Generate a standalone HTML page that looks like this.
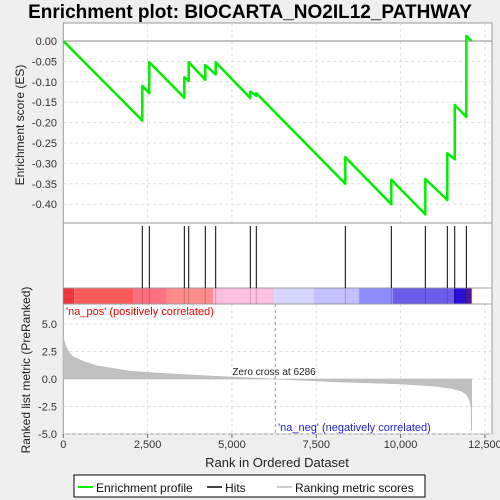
<!DOCTYPE html>
<html><head><meta charset="utf-8"><style>
body{margin:0;background:#efefef;font-family:"Liberation Sans",sans-serif}
svg{display:block}
</style></head><body>
<svg id="c" width="500" height="500" xmlns="http://www.w3.org/2000/svg"></svg>
<script>
const hitRanks=[2342,2550,3588,3718,4210,4518,5544,5722,8361,9725,10733,11385,11605,11949];
const esBefore=[-0.195,-0.128,-0.139,-0.098,-0.095,-0.082,-0.140,-0.134,-0.350,-0.400,-0.425,-0.390,-0.290,-0.186];
const esAfter=[-0.110,-0.052,-0.089,-0.052,-0.059,-0.052,-0.124,-0.128,-0.285,-0.340,-0.338,-0.275,-0.157,0.012];
const metricRanks=[0,50,100,200,300,450,600,800,1000,1500,2000,3000,4500,6286,8000,10000,11000,11500,11800,11950,12050,12090,12100,12108];
const metricVals=[3.8,3.2,2.8,2.3,2.0,1.8,1.6,1.4,1.2,0.95,0.7,0.5,0.25,0,-0.25,-0.45,-0.65,-0.85,-1.1,-1.4,-2.0,-2.6,-4.7,-4.7];
const esTicks=[0,-0.05,-0.1,-0.15,-0.2,-0.25,-0.3,-0.35,-0.4];
const esTickLabels=["0.00","-0.05","-0.10","-0.15","-0.20","-0.25","-0.30","-0.35","-0.40"];
const mTicks=[5,2.5,0,-2.5,-5];
const mTickLabels=["5.0","2.5","0.0","-2.5","-5.0"];
const xTicks=[0,2500,5000,7500,10000,12500];
const xTickLabels=["0","2,500","5,000","7,500","10,000","12,500"];
const N=12108, zeroCross=6286;
const bandEdges=[0,320,2070,3060,4440,6250,7420,8770,9770,11580,11940,12108];
const bandColors=["#e8383c","#ff5a5a","#ff7080","#ff8c8c","#ffc0e0","#d8d8ff","#c4c0ff","#8c8cff","#6c5ce8","#2a10d0","#5010a0"];
const L=63.3,R=492;
const X=r=>L+r*0.03373;
const YE=v=>41-v*408;
const YM=v=>379-v*11;
const s=document.getElementById('c');
function el(t,a,txt){const e=document.createElementNS('http://www.w3.org/2000/svg',t);for(const k in a)e.setAttribute(k,a[k]);if(txt!==undefined)e.textContent=txt;s.appendChild(e);return e;}
let e;
e=el('text',{x:250,y:18,'text-anchor':'middle','font-size':19,'font-weight':'bold',fill:'#000'},'Enrichment plot: BIOCARTA_NO2IL12_PATHWAY');

e=el('rect',{x:L,y:23,width:R-L,height:411,fill:'#fff',stroke:'#999'});

// grid
for(const t of xTicks){if(t===0)continue;for(const [a,b] of [[23,223],[304,434]]){e=el('line',{x1:X(t),x2:X(t),y1:a,y2:b,stroke:'#ddd','stroke-dasharray':'3,3'});}}
esTicks.forEach((t,i)=>{e=el('line',{x1:L,x2:R,y1:YE(t),y2:YE(t),stroke:t===0?'#888':'#ddd','stroke-dasharray':t===0?'':'3,3'});
e=el('text',{x:57,y:YE(t)+4,'text-anchor':'end','font-size':11,fill:'#333'},esTickLabels[i]);});
mTicks.forEach((t,i)=>{e=el('line',{x1:L,x2:R,y1:YM(t),y2:YM(t),stroke:'#ddd','stroke-dasharray':'3,3'});
e=el('text',{x:57,y:YM(t)+4,'text-anchor':'end','font-size':11,fill:'#333'},mTickLabels[i]);});
// panel separators
for(const y of [223,288,304]){e=el('line',{x1:L,x2:R,y1:y,y2:y,stroke:'#999'});}
// color bands
for(let i=0;i<bandColors.length;i++){e=el('rect',{x:X(bandEdges[i]),y:288.5,width:X(bandEdges[i+1])-X(bandEdges[i]),height:15,fill:bandColors[i]});}
// hits
hitRanks.forEach(r=>{e=el('line',{x1:X(r),x2:X(r),y1:226,y2:288,stroke:'#000','stroke-width':1});
e=el('line',{x1:X(r),x2:X(r),y1:288,y2:304,stroke:'rgba(0,0,0,0.2)'});});
// metric area
let d='M'+X(0)+','+YM(0);metricRanks.forEach((r,i)=>d+=' L'+X(r)+','+YM(metricVals[i]));d+=' L'+X(N)+','+YM(0)+'Z';
e=el('path',{d:d,fill:'#c0c0c0',stroke:'#b8b8b8','stroke-width':0.5});
e=el('line',{x1:X(zeroCross),x2:X(zeroCross),y1:304,y2:434,stroke:'#999','stroke-dasharray':'3,3'});
e=el('text',{x:274,y:375,'text-anchor':'middle','font-size':10,fill:'#222'},'Zero cross at '+zeroCross);
e=el('text',{x:66,y:315,'font-size':11,fill:'#e00'},"'na_pos' (positively correlated)");
e=el('text',{x:278,y:431,'font-size':11,fill:'#22c'},"'na_neg' (negatively correlated)");
// ES line
let p='M'+X(0)+','+YE(0);hitRanks.forEach((r,i)=>{p+=' L'+X(r)+','+YE(esBefore[i])+' L'+X(r)+','+YE(esAfter[i]);});p+=' L'+X(N)+','+YE(0);
e=el('path',{d:p,fill:'none',stroke:'#00ee00','stroke-width':2.5,'stroke-linejoin':'round'});
// x ticks
xTicks.forEach((t,i)=>{e=el('line',{x1:X(t),x2:X(t),y1:434,y2:438,stroke:'#666'});
e=el('text',{x:X(t),y:448,'text-anchor':'middle','font-size':11,fill:'#333'},xTickLabels[i]);});
e=el('text',{x:277,y:467,'text-anchor':'middle','font-size':13,fill:'#222'},'Rank in Ordered Dataset');
e=el('text',{x:0,y:0,transform:'translate(24,125) rotate(-90)','text-anchor':'middle','font-size':12,fill:'#222'},'Enrichment score (ES)');
e=el('text',{x:0,y:0,transform:'translate(30,370) rotate(-90)','text-anchor':'middle','font-size':12,fill:'#222'},'Ranked list metric (PreRanked)');
// legend
e=el('rect',{x:74,y:475,width:351,height:22,fill:'#fff',stroke:'#000'});
e=el('line',{x1:78,x2:93,y1:487,y2:487,stroke:'#00ee00','stroke-width':2});
e=el('text',{x:96,y:492,'font-size':12,fill:'#111'},'Enrichment profile');
e=el('line',{x1:207,x2:222,y1:487,y2:487,stroke:'#000','stroke-width':1.5});
e=el('text',{x:225,y:492,'font-size':12,fill:'#111'},'Hits');
e=el('line',{x1:277,x2:292,y1:487,y2:487,stroke:'#bbb','stroke-width':1.5});
e=el('text',{x:295,y:492,'font-size':12,fill:'#111'},'Ranking metric scores');
</script>
</body></html>
